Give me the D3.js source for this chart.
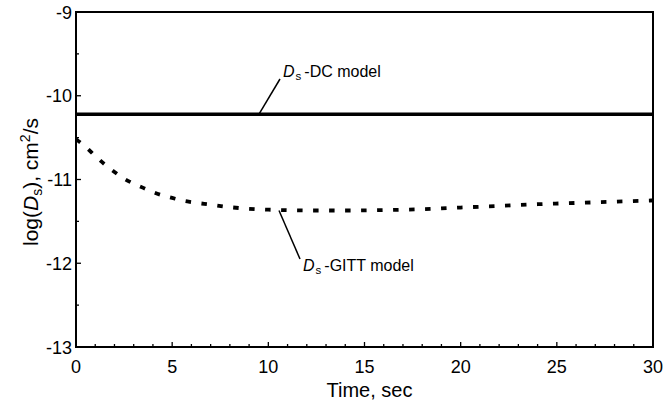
<!DOCTYPE html>
<html><head><meta charset="utf-8">
<script src="https://cdn.jsdelivr.net/npm/d3@7"></script>
<style>body{margin:0;background:#fff}svg{display:block}text{font-family:"Liberation Sans",Arial,sans-serif;fill:#000}</style>
</head><body>
<svg id="c" width="665" height="403"></svg>
<script>
const xTicks = [0,5,10,15,20,25,30];
const yTicks = [-13,-12,-11,-10,-9];
const dcValue = -10.22;
const gittTime = [0,0.5,1,1.5,2,2.5,3,3.5,4,4.5,5,5.5,6,7,8,9,10,12,14,16,18,20,22,24,26,28,30];
const gittValue = [-10.52,-10.61,-10.72,-10.82,-10.91,-10.99,-11.05,-11.10,-11.15,-11.19,-11.22,-11.25,-11.27,-11.30,-11.33,-11.35,-11.36,-11.37,-11.37,-11.365,-11.355,-11.335,-11.315,-11.295,-11.28,-11.265,-11.25];

const svg = d3.select("#c");
const L=76,R=653,T=12,B=347;
const x = d3.scaleLinear().domain([0,30]).range([L,R]);
const y = d3.scaleLinear().domain([-13,-9]).range([B,T]);

// minor/major ticks (inward)
const g = svg.append("g");
g.selectAll(".xm").data(d3.range(0,31,1)).enter().append("line")
  .attr("x1",d=>x(d)).attr("x2",d=>x(d)).attr("y1",B).attr("y2",d=>B-(d%5===0?5:3))
  .attr("stroke","#000").attr("stroke-width",1.3);
g.selectAll(".ym").data(d3.range(-13,-8.9,0.5)).enter().append("line")
  .attr("y1",d=>y(d)).attr("y2",d=>y(d)).attr("x1",L).attr("x2",d=>L+(Number.isInteger(d)?5:3))
  .attr("stroke","#000").attr("stroke-width",1.3);

// frame
svg.append("rect").attr("x",L).attr("y",T).attr("width",R-L).attr("height",B-T)
  .attr("fill","none").attr("stroke","#000").attr("stroke-width",2);

// tick labels
svg.selectAll(".xl").data(xTicks).enter().append("text")
  .attr("x",d=>x(d)).attr("y",373).attr("text-anchor","middle").attr("font-size",18).text(d=>d);
svg.selectAll(".yl").data(yTicks).enter().append("text")
  .attr("x",L-4).attr("y",d=>y(d)+6.5).attr("text-anchor","end").attr("font-size",18).text(d=>"-"+Math.abs(d));

// axis titles
svg.append("text").attr("x",(L+R)/2+5).attr("y",397).attr("text-anchor","middle").attr("font-size",20).text("Time, sec");
const yt = svg.append("text").attr("transform","translate(38,182) rotate(-90)").attr("text-anchor","middle").attr("font-size",21);
yt.append("tspan").text("log(");
yt.append("tspan").attr("font-style","italic").text("D");
yt.append("tspan").attr("font-size",14).attr("dy",4).text("s");
yt.append("tspan").attr("dy",-4).text("), cm");
yt.append("tspan").attr("font-size",14).attr("dy",-8).text("2");
yt.append("tspan").attr("dy",8).text("/s");

// DC line
svg.append("line").attr("x1",x(0)).attr("x2",x(30)).attr("y1",y(dcValue)).attr("y2",y(dcValue))
  .attr("stroke","#000").attr("stroke-width",3.5);

// GITT curve
const pts = gittTime.map((t,i)=>[t,gittValue[i]]);
svg.append("path").datum(pts)
  .attr("d",d3.line().x(d=>x(d[0])).y(d=>y(d[1])).curve(d3.curveMonotoneX))
  .attr("fill","none").attr("stroke","#000").attr("stroke-width",3.8).attr("stroke-dasharray","5.5,10.5");

// annotations
function label(xp,yp,rest){
  const t = svg.append("text").attr("x",xp).attr("y",yp).attr("font-size",16);
  t.append("tspan").attr("font-style","italic").text("D");
  t.append("tspan").attr("font-size",11.5).attr("dy",3).attr("dx",1).text("s");
  t.append("tspan").attr("dy",-3).attr("dx",3).text(rest);
}
svg.append("line").attr("x1",259).attr("y1",y(dcValue)).attr("x2",280).attr("y2",79)
  .attr("stroke","#000").attr("stroke-width",1.5);
label(283,77,"-DC model");
svg.append("line").attr("x1",279).attr("y1",y(-11.37)).attr("x2",300).attr("y2",259)
  .attr("stroke","#000").attr("stroke-width",1.5);
label(303,271,"-GITT model");
</script>
</body></html>
